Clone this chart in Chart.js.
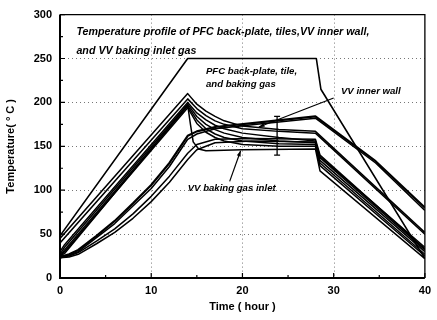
<!DOCTYPE html>
<html><head><meta charset="utf-8">
<script src="https://cdn.jsdelivr.net/npm/chart.js@4/dist/chart.umd.min.js"></script>
<style>html,body{margin:0;padding:0;background:#fff}</style>
</head><body>
<canvas id="c" width="437" height="320"></canvas>
<script>
// ---- data (time in hours, temperature in °C) ----
const xTickValues = [0, 10, 20, 30, 40];
const yTickValues = [0, 50, 100, 150, 200, 250, 300];

const bakingGasTime = [0, 14, 28.1, 28.6, 40];
const bakingGasTemp = [48, 250, 250, 215, 22];

const gasInletTime = [0, 0.5, 14, 14.3, 14.6, 15.2, 16, 20, 28, 28.5, 40];
const gasInletTemp = [25, 28, 197, 175, 155, 147, 145, 146, 147, 122, 22];

const upperTime = [0, 14, 15, 16, 17, 18, 20, 24, 28, 40];
const upper1Temp = [45, 210, 198, 190, 184, 179, 173, 169, 167, 52];
const upper2Temp = [40, 204, 193, 185, 179, 175, 170, 167, 165, 50];

const kneeTime = [0, 0.5, 14, 15, 16, 17, 18, 20, 24, 28, 28.5, 40];
const knee1Temp = [30, 38, 200, 188, 180, 174, 170, 165, 160, 156, 138, 35];
const knee2Temp = [27, 35, 198, 184, 175, 169, 165, 160, 156, 154, 134, 30];
const knee3Temp = [25, 32, 196, 180, 170, 164, 160, 156, 153, 152, 131, 27];
const knee4Temp = [25, 30, 194, 176, 166, 160, 156, 152, 150, 150, 128, 25];

const wallTime = [0, 1, 2, 4, 6, 8, 10, 12, 14, 15, 17, 21.6, 28, 34.6, 40];
const wall1Temp = [24, 27, 32, 48, 65, 85, 106, 131, 162, 167, 172, 177, 184, 133, 80];
const wall2Temp = [23, 26, 30, 46, 62, 82, 102, 127, 158, 164, 170, 175, 182, 131, 77];

const lowerTime = [0, 1, 2, 4, 6, 8, 10, 12, 14, 15, 17, 21, 28, 28.5, 40];
const lower1Temp = [23, 25, 29, 42, 56, 73, 93, 116, 142, 152, 158, 159, 158, 140, 33];
const lower2Temp = [23, 24, 27, 39, 52, 68, 87, 109, 135, 146, 154, 156, 155, 137, 32];

function pts(t, v) { return t.map((x, i) => ({x: x, y: v[i]})); }
function ds(t, v, w) {
  return {data: pts(t, v), showLine: true, borderColor: '#000', borderWidth: w,
    pointRadius: 0, fill: false, tension: 0, borderJoinStyle: 'round'};
}

const FONT = '"Liberation Sans", Arial, sans-serif';

const gridDots = {
  id: 'gridDots',
  beforeDatasetsDraw(chart) {
    const ctx = chart.ctx, a = chart.chartArea;
    const xs = chart.scales.x, ys = chart.scales.y;
    ctx.save();
    ctx.strokeStyle = '#777';
    ctx.lineWidth = 1;
    ctx.setLineDash([1, 3]);
    ctx.beginPath();
    yTickValues.slice(1, -1).forEach(v => {
      const py = Math.round(ys.getPixelForValue(v)) + 0.5;
      ctx.moveTo(a.left, py); ctx.lineTo(a.right, py);
    });
    xTickValues.slice(1, -1).forEach(v => {
      const px = Math.round(xs.getPixelForValue(v)) + 0.5;
      ctx.moveTo(px, a.top); ctx.lineTo(px, a.bottom);
    });
    ctx.stroke();
    ctx.restore();
  }
};

const frame = {
  id: 'frame',
  afterDraw(chart) {
    const ctx = chart.ctx, a = chart.chartArea;
    const xs = chart.scales.x, ys = chart.scales.y;
    ctx.save();
    ctx.strokeStyle = '#000';
    ctx.lineWidth = 1.3;
    ctx.beginPath();
    ctx.moveTo(a.left, a.top); ctx.lineTo(a.right, a.top); ctx.lineTo(a.right, a.bottom);
    ctx.stroke();
    ctx.lineWidth = 2;
    ctx.beginPath();
    ctx.moveTo(a.left, a.top); ctx.lineTo(a.left, a.bottom); ctx.lineTo(a.right, a.bottom);
    ctx.stroke();
    ctx.lineWidth = 1.2;
    ctx.beginPath();
    for (let v = 0; v <= 300; v += 25) {
      const py = ys.getPixelForValue(v), len = v % 50 === 0 ? 5 : 3;
      ctx.moveTo(a.left, py); ctx.lineTo(a.left + len, py);
    }
    for (let v = 0; v <= 40; v += 5) {
      const px = xs.getPixelForValue(v), len = v % 10 === 0 ? 5 : 3;
      ctx.moveTo(px, a.bottom); ctx.lineTo(px, a.bottom - len);
    }
    ctx.stroke();

    const P = (t, T) => [xs.getPixelForValue(t), ys.getPixelForValue(T)];
    ctx.fillStyle = '#000';
    ctx.font = 'italic bold 10.7px ' + FONT;
    ctx.textBaseline = 'middle';
    ctx.textAlign = 'left';
    const txt = (s, t, T) => { const p = P(t, T); ctx.fillText(s, p[0], p[1]); };
    txt('Temperature profile of PFC back-plate, tiles,VV inner wall,', 1.8, 280);
    txt('and VV baking inlet gas', 1.8, 258);
    ctx.font = 'italic bold 9.6px ' + FONT;
    txt('PFC back-plate, tile,', 16.0, 235);
    txt('and baking gas', 16.0, 221);
    txt('VV inner wall', 30.8, 213);
    txt('VV baking gas inlet', 14.0, 102);

    const arrow = (t1, T1, t2, T2) => {
      const p1 = P(t1, T1), p2 = P(t2, T2);
      ctx.lineWidth = 1.2;
      ctx.beginPath(); ctx.moveTo(p1[0], p1[1]); ctx.lineTo(p2[0], p2[1]); ctx.stroke();
      const ang = Math.atan2(p2[1] - p1[1], p2[0] - p1[0]);
      ctx.beginPath();
      ctx.moveTo(p2[0], p2[1]);
      ctx.lineTo(p2[0] - 6 * Math.cos(ang - 0.35), p2[1] - 6 * Math.sin(ang - 0.35));
      ctx.lineTo(p2[0] - 6 * Math.cos(ang + 0.35), p2[1] - 6 * Math.sin(ang + 0.35));
      ctx.closePath(); ctx.fill();
    };
    arrow(30.0, 205, 21.8, 172);
    arrow(18.6, 110, 19.8, 145);

    const b1 = P(23.8, 184), b2 = P(23.8, 140);
    ctx.lineWidth = 1.3;
    ctx.beginPath();
    ctx.moveTo(b1[0], b1[1]); ctx.lineTo(b2[0], b2[1]);
    ctx.moveTo(b1[0] - 3, b1[1]); ctx.lineTo(b1[0] + 3, b1[1]);
    ctx.moveTo(b2[0] - 3, b2[1]); ctx.lineTo(b2[0] + 3, b2[1]);
    ctx.stroke();
    ctx.restore();
  }
};

new Chart(document.getElementById('c'), {
  type: 'scatter',
  data: {
    datasets: [
      ds(bakingGasTime, bakingGasTemp, 1.6),
      ds(gasInletTime, gasInletTemp, 1.5),
      ds(upperTime, upper1Temp, 1.5),
      ds(upperTime, upper2Temp, 1.5),
      ds(kneeTime, knee1Temp, 1.5),
      ds(kneeTime, knee2Temp, 1.5),
      ds(kneeTime, knee3Temp, 1.5),
      ds(kneeTime, knee4Temp, 1.5),
      ds(wallTime, wall1Temp, 2.2),
      ds(wallTime, wall2Temp, 1.5),
      ds(lowerTime, lower1Temp, 1.5),
      ds(lowerTime, lower2Temp, 1.5)
    ]
  },
  options: {
    responsive: false,
    animation: false,
    layout: {padding: {top: 13, right: 7, left: 0, bottom: 0}},
    plugins: {legend: {display: false}, tooltip: {enabled: false}},
    scales: {
      x: {
        type: 'linear', min: 0, max: 40,
        afterBuildTicks: (s) => { s.ticks = xTickValues.map(v => ({value: v})); },
        afterFit: (s) => { s.height = 42; },
        ticks: {font: {family: FONT, size: 11, weight: 'bold'}, color: '#000', padding: 6},
        grid: {display: false, drawTicks: false, tickLength: 0},
        border: {display: false},
        title: {display: true, text: 'Time ( hour )', font: {family: FONT, size: 11, weight: 'bold'}, color: '#000', padding: {top: 2, bottom: 6}}
      },
      y: {
        type: 'linear', min: 0, max: 300,
        afterBuildTicks: (s) => { s.ticks = yTickValues.map(v => ({value: v})); },
        afterFit: (s) => { s.width = 60; },
        ticks: {font: {family: FONT, size: 11, weight: 'bold'}, color: '#000', padding: 8},
        grid: {display: false, drawTicks: false, tickLength: 0},
        border: {display: false},
        title: {display: true, text: 'Temperature( ° C )', font: {family: FONT, size: 11, weight: 'bold'}, color: '#000', padding: {top: 4, bottom: 0}}
      }
    }
  },
  plugins: [gridDots, frame]
});
</script>
</body></html>
